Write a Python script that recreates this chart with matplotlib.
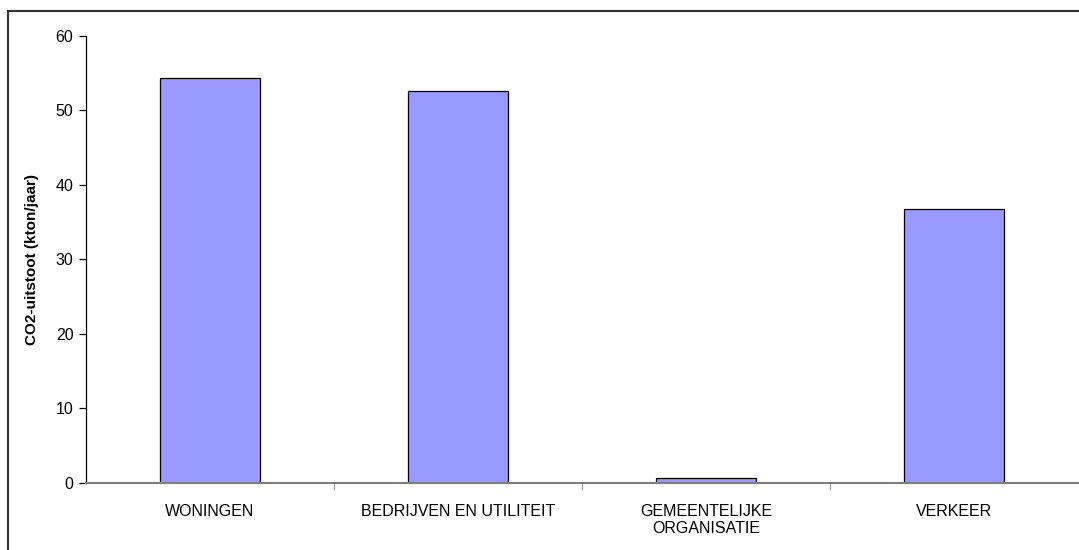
import matplotlib.pyplot as plt
from matplotlib.patches import Rectangle
from matplotlib.ticker import FixedLocator

plt.rcParams['font.family'] = ['Liberation Sans', 'DejaVu Sans']

categories = ["WONINGEN", "BEDRIJVEN EN UTILITEIT", "GEMEENTELIJKE\nORGANISATIE", "VERKEER"]
uitstoot = [54.3, 52.5, 0.7, 36.8]

fig = plt.figure(figsize=(10.79, 5.5), dpi=100)
ax = fig.add_axes([86 / 1079, 1 - 483 / 550, (1078 - 86) / 1079, (483 - 35.5) / 550])

# frame around the chart area
fig.patches.append(Rectangle((8 / 1079, -0.1), 1.2, 1 - 11 / 550 + 0.1,
                             transform=fig.transFigure, fill=False,
                             edgecolor='#333333', linewidth=1.5))

x = range(len(categories))
ax.bar(x, uitstoot, width=0.403, color='#9999ff', edgecolor='black', linewidth=0.9)

ax.set_xlim(-0.5, len(categories) - 0.5)
ax.set_ylim(0, 60)
ax.set_yticks(range(0, 61, 10))
ax.set_xticks(list(x))
ax.set_xticklabels(categories, fontsize=11.5, linespacing=1.2)
ax.xaxis.set_minor_locator(FixedLocator([i + 0.5 for i in range(len(categories) - 1)]))
ax.tick_params(axis='x', which='major', length=0, pad=15)
ax.tick_params(axis='x', which='minor', length=5, color='#808080', direction='out')
ax.tick_params(axis='y', length=5, width=0.9, labelsize=11.5, pad=4)

for side in ['top', 'right']:
    ax.spines[side].set_visible(False)
ax.spines['bottom'].set_color('#808080')
ax.spines['bottom'].set_linewidth(1.5)
ax.spines['left'].set_linewidth(0.9)

ax.set_ylabel("CO2-uitstoot (kton/jaar)", fontsize=11, fontweight='bold', labelpad=12)

fig.savefig("out.png", dpi=100)
